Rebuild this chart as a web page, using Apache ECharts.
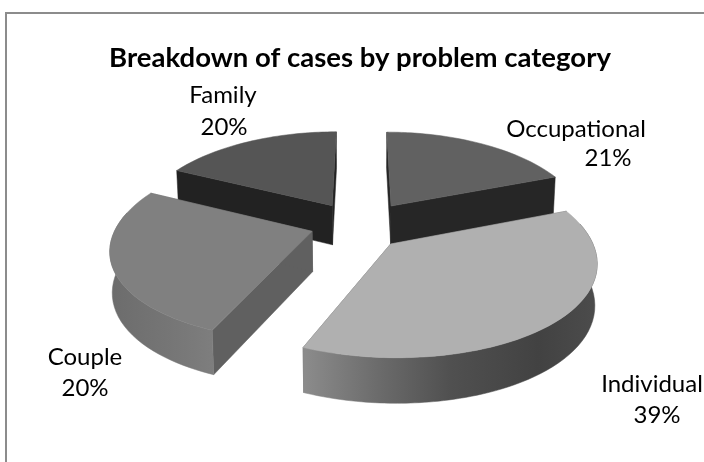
<!DOCTYPE html>
<html><head><meta charset="utf-8">
<style>html,body{margin:0;padding:0;background:#fff}#c{width:704px;height:462px}</style>
<script src="https://cdn.jsdelivr.net/npm/echarts@6/dist/echarts.min.js"></script>
</head><body><div id="c"></div>
<script>
const categories = ['Occupational', 'Individual', 'Couple', 'Family'];
const shares = [21, 39, 20, 20];
const titleText = 'Breakdown of cases by problem category';

const topColors = ['#616161', '#b0b0b0', '#808080', '#555555'];
const innerColors = ['#262626', '#606060', '#606060', '#222222'];
const wallStops = [
  [[0, '#555'], [1, '#444']],
  [[0, '#8c8c8c'], [0.25, '#6c6c6c'], [0.5, '#505050'], [0.8, '#424242'], [1, '#4c4c4c']],
  [[0, '#6c6c6c'], [0.6, '#767676'], [1, '#7e7e7e']],
  [[0, '#444'], [1, '#444']]
];
// two text lines per slice: [name x, name y, share x, share y]
const labelPlaces = [
  [576, 129, 608, 158],
  [652, 384, 657, 415],
  [85, 357, 85, 388],
  [223, 95, 224, 127]
];

const view = {cx: 361, cy: 224, rx: 195, ry: 90, kx: 0.17, ky: 0.15, kd: 0.1, depth: 40, shrink: 0.99, burst: 0.26, warp: 14, wallFrom: -0.25};
const rad = d => d * Math.PI / 180;
const warpAngle = t => t - view.warp * Math.sin(rad(2 * t));

function project(x, z, low) {
  let X = view.cx + view.rx * x / (1 - view.kx * z);
  let Y = view.cy + view.ry * z / (1 - view.ky * z);
  if (low) {
    X = view.cx + (X - view.cx) * view.shrink;
    Y += view.depth / (1 - view.kd * z);
  }
  return [X, Y];
}

const total = shares.reduce((a, b) => a + b, 0);
const sweep = [];
shares.reduce((acc, v) => { sweep.push([acc / total * 360, (acc + v) / total * 360]); return acc + v; }, 0);

function renderSlice(params, api) {
  const i = params.dataIndex;
  const [a, b] = sweep[i];
  const mid = rad((a + b) / 2);
  const ox = view.burst * Math.sin(mid), oz = -view.burst * Math.cos(mid);
  const rimAt = t => { const p = rad(warpAngle(t)); return [ox + Math.sin(p), oz - Math.cos(p)]; };
  const rim = [];
  for (let t = a; t < b; t += 2) rim.push(rimAt(t));
  rim.push(rimAt(b));
  const hub = [ox, oz];
  const up = rim.map(q => project(q[0], q[1], false));
  const down = rim.map(q => project(q[0], q[1], true));
  const hubUp = project(hub[0], hub[1], false), hubDown = project(hub[0], hub[1], true);
  const base = 1000 + Math.round(oz * 1000);
  const poly = (points, fill, k) => ({type: 'polygon', shape: {points}, style: {fill, stroke: fill, lineWidth: 0.5}, z2: base + k});
  const facing = rim.map((q, j) => j).filter(j => rim[j][1] - oz > view.wallFrom);
  const children = [
    poly([hubUp, up[0], down[0], hubDown], innerColors[i], 0),
    poly([hubUp, up[up.length - 1], down[down.length - 1], hubDown], innerColors[i], 0)
  ];
  if (facing.length > 1) {
    const grad = new echarts.graphic.LinearGradient(0, 0, 1, 0, wallStops[i].map(s => ({offset: s[0], color: s[1]})));
    children.push(poly(facing.map(j => up[j]).concat(facing.map(j => down[j]).reverse()), grad, 1));
  }
  children.push(poly([hubUp].concat(up), topColors[i], 2));
  return {type: 'group', children};
}

const labelFont = {fontFamily: 'Lato', fontSize: 24, fill: '#000', textAlign: 'center', textVerticalAlign: 'middle'};
const labelGraphics = [];
categories.forEach((name, i) => {
  const p = labelPlaces[i];
  labelGraphics.push({type: 'text', x: p[0], y: p[1], style: Object.assign({text: name}, labelFont)});
  labelGraphics.push({type: 'text', x: p[2], y: p[3], style: Object.assign({text: shares[i] + '%'}, labelFont)});
});

const chart = echarts.init(document.getElementById('c'));
chart.setOption({
  animation: false,
  backgroundColor: '#fff',
  title: {text: titleText, left: 355, top: 39, textAlign: 'center',
    textStyle: {fontFamily: 'Lato', fontWeight: 'bold', fontSize: 27.5, color: '#000'}},
  graphic: [{type: 'polyline', shape: {points: [[6, 462], [6, 13], [704, 13]]}, style: {stroke: '#8c8c8c', lineWidth: 2, fill: 'none'}}].concat(labelGraphics),
  series: [{type: 'custom', coordinateSystem: 'none', renderItem: renderSlice, silent: true,
    data: shares.map((v, i) => ({name: categories[i], value: [v]}))}]
});
</script></body></html>
